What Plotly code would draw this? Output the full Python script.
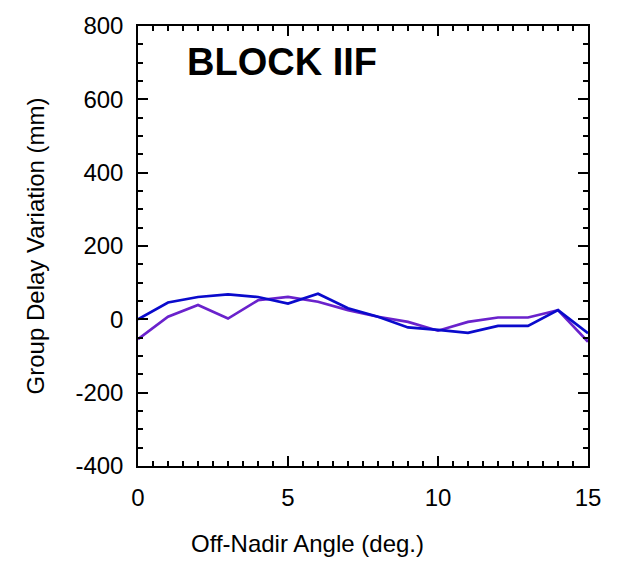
import plotly.graph_objects as go

angles = [0, 1, 2, 3, 4, 5, 6, 7, 8, 9, 10, 11, 12, 13, 14, 15]
blue_vals = [0, 46, 61, 68, 61, 43, 70, 30, 7, -22, -29, -37, -18, -18, 25, -38]
purple_vals = [-54, 7, 39, 2, 52, 61, 48, 25, 7, -7, -31, -7, 5, 5, 25, -61]
label = "BLOCK IIF"
x_ticks = [0, 5, 10, 15]
y_ticks = [-400, -200, 0, 200, 400, 600, 800]
y_ticktext = [str(v).replace("\u2212", "-") for v in y_ticks]
x_title = "Off-Nadir Angle (deg.)"
y_title = "Group Delay Variation (mm)"

FONT = "Liberation Sans, Arial"

fig = go.Figure()
fig.add_trace(go.Scatter(x=angles, y=purple_vals, mode="lines",
                         line=dict(color="#6A22CC", width=2.7), showlegend=False))
fig.add_trace(go.Scatter(x=angles, y=blue_vals, mode="lines",
                         line=dict(color="#0A0ACC", width=2.7), showlegend=False))

fig.add_annotation(x=1.55, y=702, text="<b>" + label + "</b>", showarrow=False,
                   xanchor="left", yanchor="middle",
                   font=dict(family=FONT, size=38, color="black"))

fig.add_annotation(xref="paper", yref="paper", x=0.3756, y=-0.175, text=x_title,
                   showarrow=False, xanchor="center", yanchor="middle",
                   font=dict(family=FONT, size=24, color="black"))
fig.add_annotation(xref="paper", yref="paper", x=-0.228, y=0.5, text=y_title,
                   showarrow=False, xanchor="center", yanchor="middle", textangle=-90,
                   font=dict(family=FONT, size=24, color="black"))

axis_common = dict(showgrid=False, zeroline=False, showline=True, linecolor="black",
                   linewidth=1.5, mirror="allticks", ticks="inside", ticklen=10,
                   tickwidth=1.5, tickcolor="black",
                   tickfont=dict(family=FONT, size=24, color="black"))

fig.update_xaxes(range=[0, 15], tickvals=x_ticks, ticktext=[str(v) for v in x_ticks],
                 ticklabelstandoff=9,
                 minor=dict(dtick=0.5, ticks="inside", ticklen=5, tickwidth=1.5, tickcolor="black"),
                 **axis_common)
fig.update_yaxes(range=[-400, 800], tickvals=y_ticks, ticktext=y_ticktext,
                 ticklabelstandoff=8,
                 minor=dict(dtick=50, ticks="inside", ticklen=5, tickwidth=1.5, tickcolor="black"),
                 **axis_common)

fig.update_layout(width=622, height=561, margin=dict(l=138, r=34, t=26, b=95),
                  plot_bgcolor="white", paper_bgcolor="white")

fig.write_html("out.html")
